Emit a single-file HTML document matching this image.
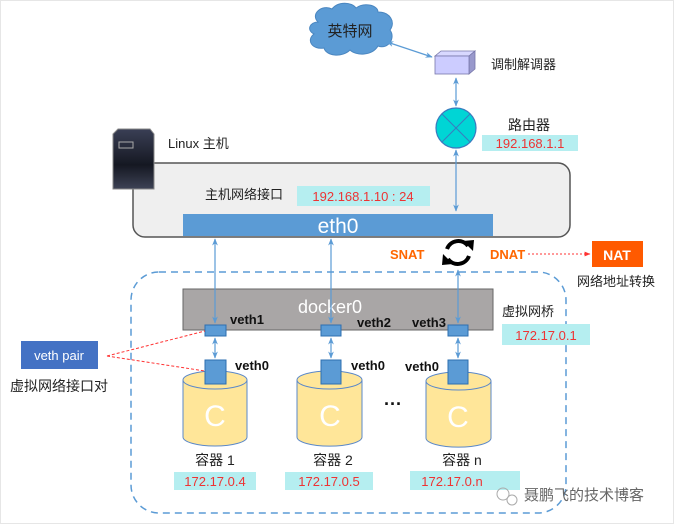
<!DOCTYPE html>
<html><head><meta charset="utf-8"><style>
html,body{margin:0;padding:0;background:#fff}
svg{display:block}
text{font-family:"Liberation Sans","Noto Sans CJK SC",sans-serif}
</style></head><body>
<svg width="674" height="524" viewBox="0 0 674 524" xmlns="http://www.w3.org/2000/svg">
<defs>
<marker id="a" viewBox="0 0 10 10" refX="9" refY="5" markerWidth="6" markerHeight="6" orient="auto-start-reverse"><path d="M0,1 L10,5 L0,9 L3,5z" fill="#5b9bd5"/></marker>
<marker id="r" viewBox="0 0 10 10" refX="9" refY="5" markerWidth="6" markerHeight="6" orient="auto"><path d="M0,1 L10,5 L0,9z" fill="#f33"/></marker>
<linearGradient id="sv" x1="0" y1="0" x2="0" y2="1"><stop offset="0" stop-color="#3a3f55"/><stop offset="0.6" stop-color="#151822"/><stop offset="1" stop-color="#3d4255"/></linearGradient>
</defs>
<rect x="0.5" y="0.5" width="673" height="523" fill="#fff" stroke="#e6e6e6"/>
<!-- cloud -->
<path d="M318,22 C310,14 322,4 332,9 C338,1 352,2 356,8 C364,2 378,5 378,12 C390,12 396,22 390,30 C396,38 388,50 378,46 C372,56 356,56 350,50 C342,58 326,56 324,48 C312,50 306,40 314,34 C306,30 310,22 318,22z" fill="#5b9bd5" stroke="#4a86c0"/>
<text x="350" y="36" font-size="15" text-anchor="middle" fill="#222">英特网</text>
<!-- modem -->
<path d="M435,56 L441,51 L475,51 L469,56z" fill="#d8d8ff" stroke="#7777aa" stroke-width="0.8"/>
<path d="M469,56 L475,51 L475,69 L469,74z" fill="#9999cc" stroke="#7777aa" stroke-width="0.8"/>
<rect x="435" y="56" width="34" height="18" fill="#ccccff" stroke="#7777aa" stroke-width="0.8"/>
<text x="491" y="69" font-size="13" fill="#222">调制解调器</text>
<line x1="387" y1="42" x2="432" y2="57" stroke="#5b9bd5" stroke-width="1.2" marker-start="url(#a)" marker-end="url(#a)"/>
<line x1="456" y1="78" x2="456" y2="106" stroke="#5b9bd5" stroke-width="1.2" marker-start="url(#a)" marker-end="url(#a)"/>
<!-- router -->
<circle cx="456" cy="128" r="20" fill="#00d5d5" stroke="#3a7bbf" stroke-width="1.2"/>
<line x1="442" y1="114" x2="470" y2="142" stroke="#3a7bbf"/><line x1="470" y1="114" x2="442" y2="142" stroke="#3a7bbf"/>
<text x="508" y="130" font-size="14" fill="#222">路由器</text>
<rect x="482" y="135" width="96" height="16" fill="#b5eef0"/>
<text x="530" y="148" font-size="13" text-anchor="middle" fill="#e33">192.168.1.1</text>
<!-- host -->
<rect x="133" y="163" width="437" height="74" rx="12" fill="#efefef" stroke="#555" stroke-width="1.5"/>
<path d="M113,134 L118,129 L150,129 L154,134 L154,189 L113,189z" fill="url(#sv)" stroke="#888"/>
<rect x="119" y="142" width="14" height="6" fill="none" stroke="#aaa"/>
<text x="168" y="148" font-size="13" fill="#222">Linux 主机</text>
<text x="205" y="199" font-size="13" fill="#222">主机网络接口</text>
<rect x="297" y="186" width="133" height="20" fill="#b5eef0"/>
<text x="363" y="201" font-size="13" text-anchor="middle" fill="#e33">192.168.1.10 : 24</text>
<rect x="183" y="214" width="310" height="22" fill="#5b9bd5"/>
<text x="338" y="233" font-size="21" text-anchor="middle" fill="#fff">eth0</text>
<line x1="456" y1="150" x2="456" y2="211" stroke="#5b9bd5" stroke-width="1.2" marker-start="url(#a)" marker-end="url(#a)"/>
<!-- NAT -->
<text x="390" y="259" font-size="13" font-weight="bold" fill="#f60">SNAT</text>
<text x="490" y="259" font-size="13" font-weight="bold" fill="#f60">DNAT</text>
<path d="M447,249 A12,12 0 0 1 468,246" fill="none" stroke="#000" stroke-width="4"/>
<path d="M463,241 L473,251 L474,240z" fill="#000"/>
<path d="M469,256 A12,12 0 0 1 448,259" fill="none" stroke="#000" stroke-width="4"/>
<path d="M443,254 L453,264 L442,265z" fill="#000" transform="rotate(0)"/>
<line x1="528" y1="254" x2="590" y2="254" stroke="#f33" stroke-dasharray="2,2" marker-end="url(#r)"/>
<rect x="592" y="241" width="51" height="26" fill="#ff5a00"/>
<text x="617" y="260" font-size="14" font-weight="bold" text-anchor="middle" fill="#fff">NAT</text>
<text x="577" y="286" font-size="13" fill="#222">网络地址转换</text>
<!-- dashed area -->
<rect x="131" y="272" width="435" height="241" rx="28" fill="none" stroke="#5b9bd5" stroke-width="1.5" stroke-dasharray="7,5"/>
<rect x="183" y="289" width="310" height="41" fill="#a9a6a6" stroke="#666"/>
<text x="330" y="313" font-size="18" text-anchor="middle" fill="#fff">docker0</text>
<text x="502" y="316" font-size="13" fill="#222">虚拟网桥</text>
<rect x="502" y="324" width="88" height="21" fill="#b5eef0"/>
<text x="546" y="340" font-size="13" text-anchor="middle" fill="#e33">172.17.0.1</text>
<g stroke="#5b9bd5" stroke-width="1.2">
<line x1="215" y1="239" x2="215" y2="323" marker-start="url(#a)" marker-end="url(#a)"/>
<line x1="331" y1="239" x2="331" y2="323" marker-start="url(#a)" marker-end="url(#a)"/>
<line x1="458" y1="270" x2="458" y2="323" marker-start="url(#a)" marker-end="url(#a)"/>
<line x1="215" y1="338" x2="215" y2="358" marker-start="url(#a)" marker-end="url(#a)"/>
<line x1="331" y1="338" x2="331" y2="358" marker-start="url(#a)" marker-end="url(#a)"/>
<line x1="458" y1="338" x2="458" y2="358" marker-start="url(#a)" marker-end="url(#a)"/>
</g>
<g fill="#5b9bd5" stroke="#2e6fb0">
<rect x="205" y="325" width="21" height="11"/><rect x="321" y="325" width="20" height="11"/><rect x="448" y="325" width="20" height="11"/>
</g>
<g font-size="13" font-weight="bold" fill="#111">
<text x="230" y="324">veth1</text><text x="357" y="327">veth2</text><text x="412" y="327">veth3</text>
<text x="235" y="370">veth0</text><text x="351" y="370">veth0</text><text x="405" y="371">veth0</text>
</g>
<!-- cylinders -->
<g fill="#ffe699" stroke="#5b88c9" stroke-width="1">
<path d="M183,380 L183,437 A32,9 0 0 0 247,437 L247,380"/><ellipse cx="215" cy="380" rx="32" ry="9"/>
<path d="M297,380 L297,437 A32,9 0 0 0 362,437 L362,380"/><ellipse cx="329.5" cy="380" rx="32.5" ry="9"/>
<path d="M426,381 L426,438 A32,9 0 0 0 491,438 L491,381"/><ellipse cx="458.5" cy="381" rx="32.5" ry="9"/>
</g>
<g fill="#5b9bd5" stroke="#2e6fb0">
<rect x="205" y="360" width="21" height="24"/><rect x="321" y="360" width="20" height="24"/><rect x="448" y="360" width="20" height="24"/>
</g>
<g font-size="30" fill="#fff" text-anchor="middle"><text x="215" y="426">C</text><text x="330" y="426">C</text><text x="458" y="427">C</text></g>
<text x="393" y="410" font-size="18" font-weight="bold" text-anchor="middle" fill="#111">···</text>
<g font-size="14" fill="#222" text-anchor="middle"><text x="215" y="465">容器 1</text><text x="333" y="465">容器 2</text><text x="462" y="465">容器 n</text></g>
<rect x="174" y="472" width="82" height="18" fill="#b5eef0"/><rect x="285" y="472" width="88" height="18" fill="#b5eef0"/><rect x="410" y="471" width="110" height="19" fill="#b5eef0"/>
<g font-size="13" fill="#e33" text-anchor="middle"><text x="215" y="486">172.17.0.4</text><text x="329" y="486">172.17.0.5</text><text x="452" y="486">172.17.0.n</text></g>
<!-- veth pair -->
<rect x="21" y="341" width="77" height="28" fill="#4472c4"/>
<text x="59" y="360" font-size="13" text-anchor="middle" fill="#fff">veth pair</text>
<text x="10" y="391" font-size="14" fill="#222">虚拟网络接口对</text>
<line x1="107" y1="356" x2="205" y2="331" stroke="#f33" stroke-dasharray="3,2"/>
<line x1="107" y1="356" x2="205" y2="371" stroke="#f33" stroke-dasharray="3,2"/>
<!-- watermark -->
<circle cx="503" cy="494" r="6" fill="none" stroke="#aaa"/><circle cx="512" cy="500" r="5" fill="none" stroke="#aaa"/>
<text x="524" y="500" font-size="15" fill="#666">聂鹏飞的技术博客</text>
</svg>
</body></html>
